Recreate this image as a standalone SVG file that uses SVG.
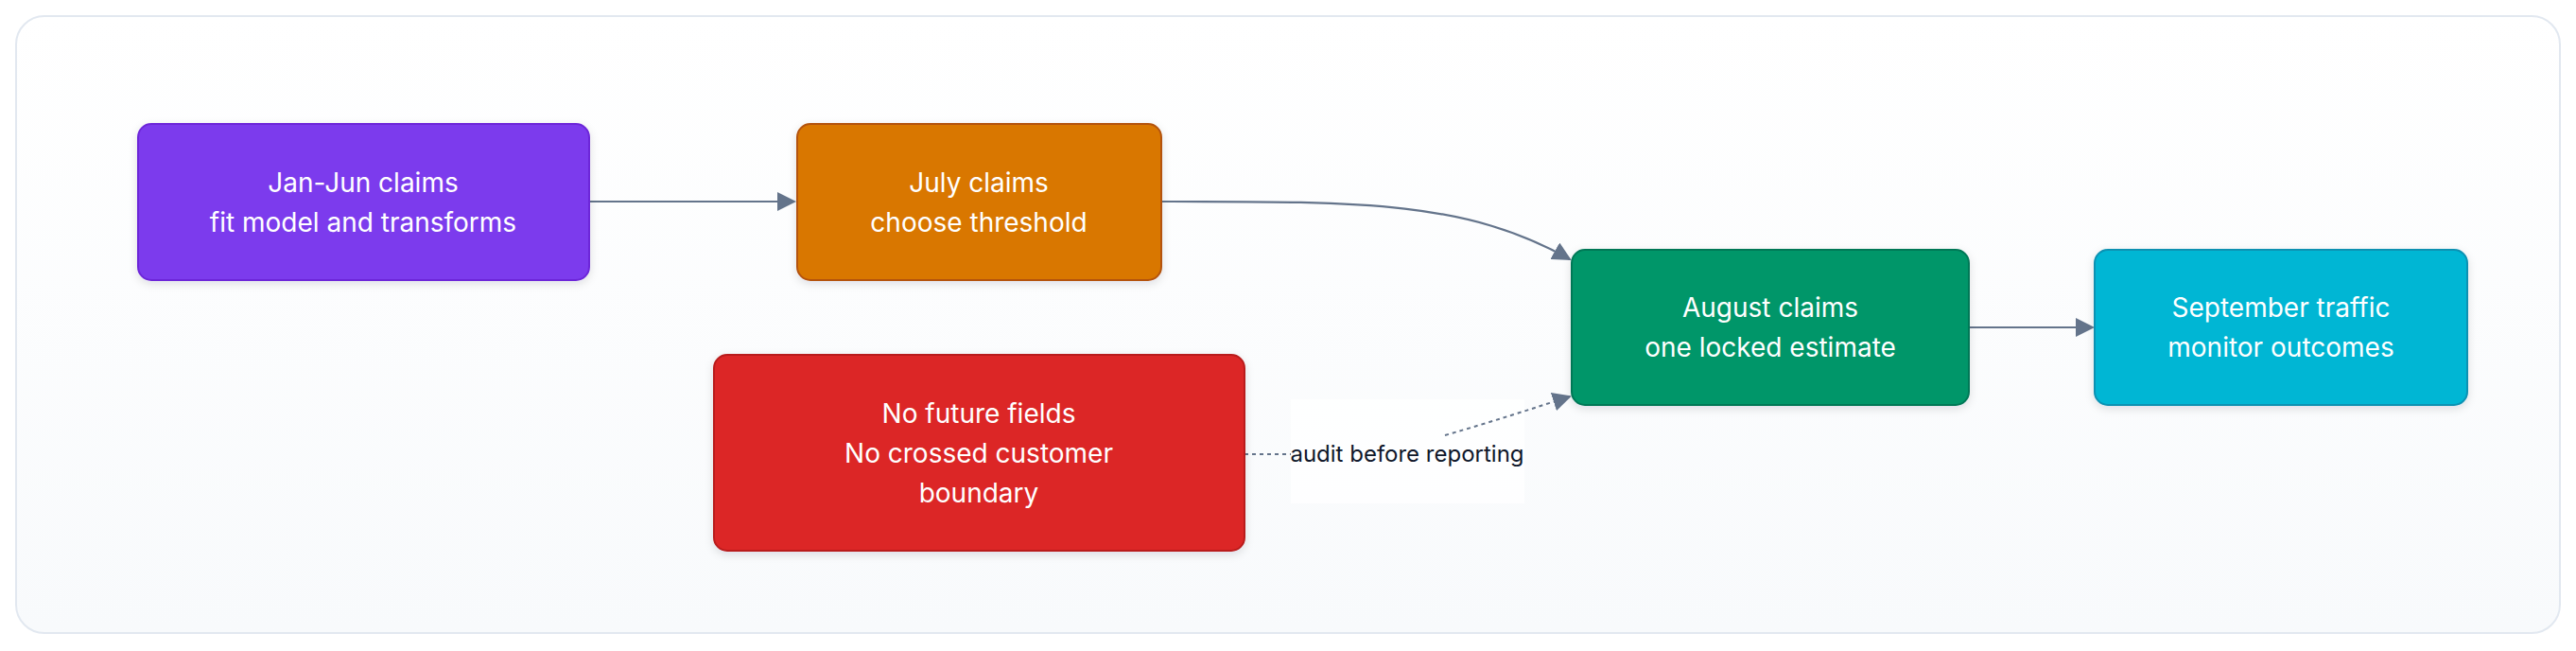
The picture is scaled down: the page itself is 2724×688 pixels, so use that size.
<svg xmlns="http://www.w3.org/2000/svg" width="2724" height="688" viewBox="0 0 2724 688">
<defs>
<linearGradient id="bg" x1="0" y1="0" x2="0" y2="1"><stop offset="0" stop-color="#ffffff"/><stop offset="1" stop-color="#f8fafc"/></linearGradient>
<filter id="sh" x="-10%" y="-10%" width="120%" height="130%"><feDropShadow dx="0" dy="3" stdDeviation="5" flood-color="#0f172a" flood-opacity="0.12"/></filter>
<marker id="ar" viewBox="0 0 10 10" refX="9" refY="5" markerWidth="7" markerHeight="7" markerUnits="userSpaceOnUse" orient="auto"><path d="M0,0 L10,5 L0,10 z" fill="#64748b"/></marker>
<marker id="ah" viewBox="0 0 10 10" refX="9" refY="5" markerWidth="20" markerHeight="20" markerUnits="userSpaceOnUse" orient="auto"><path d="M0,0 L10,5 L0,10 z" fill="#64748b"/></marker>
<style>
.n{filter:url(#sh);stroke-width:2}
.t{font-family:Inter,"Liberation Sans",sans-serif;font-size:28px;fill:#ffffff;text-anchor:middle}
.e{fill:none;stroke:#64748b;stroke-width:2.2}
.d{stroke-dasharray:4 4;stroke-width:2}
.l{font-family:Inter,"Liberation Sans",sans-serif;font-size:24px;fill:#0f172a;text-anchor:middle}
</style>
</defs>
<rect x="17" y="17" width="2690" height="652" rx="30" fill="url(#bg)" stroke="#e2e8f0" stroke-width="2"/>
<g id="connectors">
<path class="e" d="M622 213 H840" marker-end="url(#ah)"/>
<path class="e" d="M1228 213 C1440 213 1550 212 1660 274" marker-end="url(#ah)"/>
<path class="e" d="M2083 346 H2213" marker-end="url(#ah)"/>
<rect x="1365" y="422" width="247" height="110" fill="#ffffff" opacity="0.8"/>
<path class="e d" d="M1316 480 H1365"/>
<path class="e d" d="M1528 460 C1580 445 1620 432 1660 419" marker-end="url(#ah)"/>
<text class="l" x="1488" y="488">audit before reporting</text>
</g>
<g id="n1"><rect class="n" x="146" y="131" width="477" height="165" rx="14" fill="#7c3aed" stroke="#6d28d9"/><text class="t" x="384" y="203">Jan-Jun claims</text><text class="t" x="384" y="245">fit model and transforms</text></g>
<g id="n2"><rect class="n" x="843" y="131" width="385" height="165" rx="14" fill="#d97706" stroke="#b45309"/><text class="t" x="1035" y="203">July claims</text><text class="t" x="1035" y="245">choose threshold</text></g>
<g id="n3"><rect class="n" x="1662" y="264" width="420" height="164" rx="14" fill="#059669" stroke="#047857"/><text class="t" x="1872" y="335">August claims</text><text class="t" x="1872" y="377">one locked estimate</text></g>
<g id="n4"><rect class="n" x="2215" y="264" width="394" height="164" rx="14" fill="#06b6d4" stroke="#0891b2"/><text class="t" x="2412" y="335">September traffic</text><text class="t" x="2412" y="377">monitor outcomes</text></g>
<g id="n5"><rect class="n" x="755" y="375" width="561" height="207" rx="14" fill="#dc2626" stroke="#b91c1c"/><text class="t" x="1035" y="447">No future fields</text><text class="t" x="1035" y="489">No crossed customer</text><text class="t" x="1035" y="531">boundary</text></g>
</svg>
